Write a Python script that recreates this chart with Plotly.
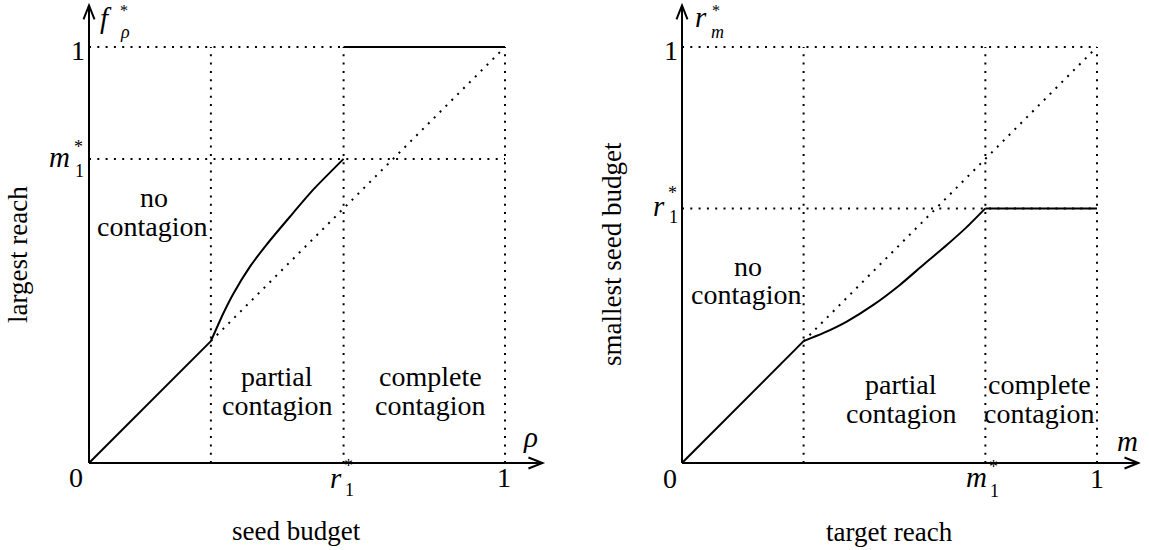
import plotly.graph_objects as go

W, H = 1149, 550
SERIF = "Liberation Serif, Times New Roman, DejaVu Serif, serif"

# key thresholds (fractions of the population)
KINK = 0.293   # end of the no-contagion regime
R1 = 0.612     # r1*: smallest seed giving complete contagion
M1 = 0.731     # m1*: largest reach below complete contagion

# left panel: largest reach f*_rho as a function of seed budget rho
lin_rho = [0.0, 0.293]
lin_val = [0.0, 0.293]
reach_rho = [0.293, 0.323, 0.347, 0.387, 0.427, 0.483, 0.539, 0.612]
reach_val = [0.293, 0.360, 0.407, 0.472, 0.525, 0.592, 0.657, 0.731]
full_rho = [0.612, 1.0]
full_val = [1.0, 1.0]

# right panel: smallest seed budget r*_m as a function of target reach m
lin_m = [0.0, 0.293]
lin_seed = [0.0, 0.293]
seed_m = [0.293, 0.340, 0.397, 0.461, 0.525, 0.581, 0.638, 0.686, 0.731]
seed_val = [0.293, 0.312, 0.340, 0.380, 0.428, 0.476, 0.524, 0.567, 0.612]
flat_m = [0.731, 1.0]
flat_seed = [0.612, 0.612]

# panel geometry in pixels: origin and unit length
PANELS = {
    "left": dict(ox=89, oy=463, sx=416, sy=416, xr=[-0.2, 1.12], yr=[-0.2, 1.11]),
    "right": dict(ox=682, oy=463, sx=415, sy=416, xr=[-0.2, 1.105], yr=[-0.2, 1.11]),
}


def xdomain(p):
    return [(p["ox"] + p["xr"][0] * p["sx"]) / W, (p["ox"] + p["xr"][1] * p["sx"]) / W]


def ydomain(p):
    return [1 - (p["oy"] - p["yr"][0] * p["sy"]) / H, 1 - (p["oy"] - p["yr"][1] * p["sy"]) / H]


fig = go.Figure()
DOT = dict(color="black", width=2, dash="2px,6.3px")
SOLID = dict(color="black", width=2)
CURVE = dict(color="black", width=2, shape="spline", smoothing=0.6)


def line(xs, ys, style, ax):
    fig.add_trace(go.Scatter(x=xs, y=ys, mode="lines", line=style,
                             xaxis="x" + ax, yaxis="y" + ax,
                             hoverinfo="skip", showlegend=False))


def guides(ax, vx, hy):
    # dotted reference grid of the regimes
    for v in vx:
        line([v, v], [0, 1], DOT, ax)
    for h in hy:
        line([0, 1], [h, h], DOT, ax)
    line([KINK, 1], [KINK, 1], DOT, ax)


def axes_arrows(ax, p, xtip, ytip):
    line([0, xtip], [0, 0], SOLID, ax)
    line([0, 0], [0, ytip], SOLID, ax)
    Lx, hx = 14 / p["sx"], 5.5 / p["sy"]
    Ly, hy = 14 / p["sy"], 5.5 / p["sx"]
    xr = "x" if ax == "" else "x" + ax
    yr = "y" if ax == "" else "y" + ax
    fig.add_shape(type="path", xref=xr, yref=yr,
                  path=f"M {xtip - Lx} {hx} L {xtip} 0 L {xtip - Lx} {-hx}",
                  line=dict(color="black", width=2))
    fig.add_shape(type="path", xref=xr, yref=yr,
                  path=f"M {-hy} {ytip - Ly} L 0 {ytip} L {hy} {ytip - Ly}",
                  line=dict(color="black", width=2))


# left panel
guides("", [KINK, R1, 1.0], [M1, 1.0])
axes_arrows("", PANELS["left"], 1.09, 1.10)
line(lin_rho, lin_val, SOLID, "")
line(reach_rho, reach_val, CURVE, "")
line(full_rho, full_val, SOLID, "")

# right panel
guides("2", [KINK, M1, 1.0], [R1, 1.0])
axes_arrows("2", PANELS["right"], 1.10, 1.10)
line(lin_m, lin_seed, SOLID, "2")
line(seed_m, seed_val, CURVE, "2")
line(flat_m, flat_seed, SOLID, "2")

ann = []


def text(t, px, py, size=28, angle=0, ya="middle"):
    ann.append(dict(text=t, x=px / W, y=1 - py / H, xref="paper", yref="paper",
                    showarrow=False, xanchor="center", yanchor=ya,
                    textangle=angle,
                    font=dict(family=SERIF, size=size, color="black")))


def math(letter, sub, px, py, sx, split, top=False):
    # italic symbol with a star stacked above its subscript
    text("<i>" + letter + "</i>", px, py, 29)
    if top:
        text("*", sx, 0, 16, ya="top")
    else:
        text("*", sx, split, 18, ya="bottom")
    text(sub, sx + 1, split, 18, ya="top")


# left panel labels
text("1", 78, 50, 28)
text("0", 76, 477, 28)
text("1", 504, 477, 28)
math("m", "1", 59, 157, 78, 159)
math("r", "1", 336, 478, 348, 478)
text("<i>ρ</i>", 530, 437, 29)
math("f", "<i>ρ</i>", 106, 18, 124, 20, top=True)
text("largest reach", 18, 255, 27, -90)
text("seed budget", 296, 531, 27)
text("no", 154, 197)
text("contagion", 152, 226)
text("partial", 277, 376)
text("contagion", 277, 405)
text("complete", 430, 376)
text("contagion", 430, 405)

# right panel labels
text("1", 671, 50, 28)
text("0", 670, 478, 28)
text("1", 1097, 478, 28)
math("r", "1", 659, 206, 672, 205)
math("m", "1", 976, 477, 993, 479)
text("<i>m</i>", 1127, 441, 29)
math("r", "<i>m</i>", 701, 17, 716, 20, top=True)
text("smallest seed budget", 612, 254, 27, -90)
text("target reach", 889, 532, 27)
text("no", 748, 266)
text("contagion", 746, 294)
text("partial", 901, 384)
text("contagion", 901, 413)
text("complete", 1039, 384)
text("contagion", 1039, 413)

hidden = dict(visible=False, showgrid=False, zeroline=False)
L, R = PANELS["left"], PANELS["right"]
fig.update_layout(
    width=W, height=H,
    margin=dict(l=0, r=0, t=0, b=0),
    paper_bgcolor="white", plot_bgcolor="white",
    showlegend=False,
    font=dict(family=SERIF),
    xaxis=dict(hidden, range=L["xr"], domain=xdomain(L)),
    yaxis=dict(hidden, range=L["yr"], domain=ydomain(L)),
    xaxis2=dict(hidden, range=R["xr"], domain=xdomain(R), anchor="y2"),
    yaxis2=dict(hidden, range=R["yr"], domain=ydomain(R), anchor="x2"),
    annotations=ann,
)

fig.write_html("out.html")
